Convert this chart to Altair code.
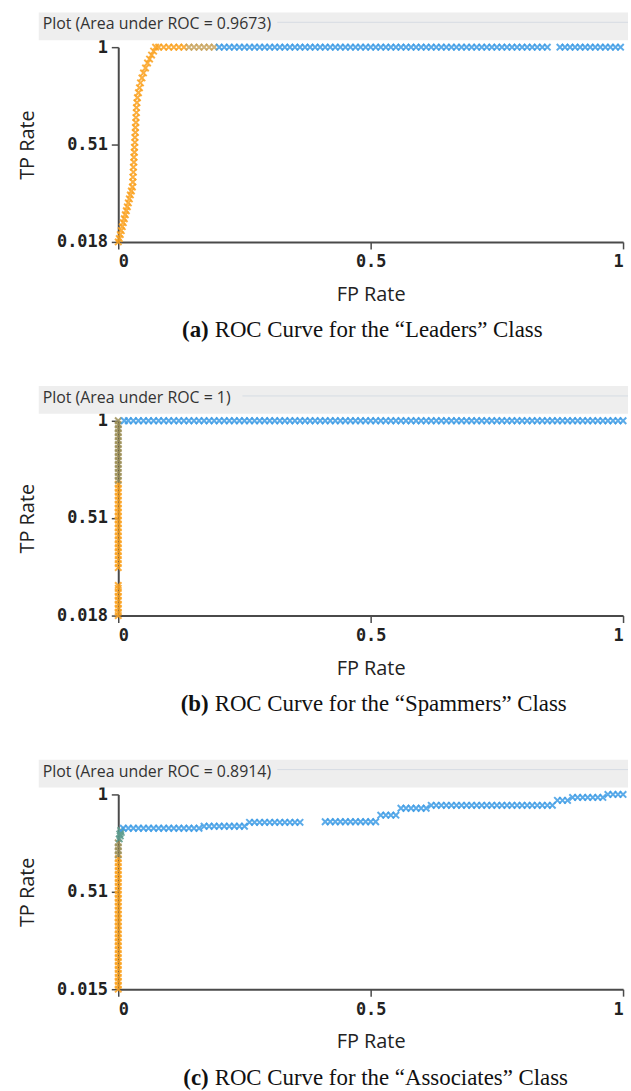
import altair as alt
import pandas as pd

# ---------------- data ----------------
# Panel (a) "Leaders"
A_CURVE_FP = [0.000, 0.002, 0.004, 0.006, 0.008, 0.010, 0.012, 0.014, 0.016, 0.018,
              0.020, 0.022, 0.024, 0.026, 0.028, 0.029, 0.029, 0.030, 0.030, 0.031,
              0.031, 0.032, 0.032, 0.033, 0.033, 0.034, 0.034, 0.035, 0.035, 0.036,
              0.036, 0.037, 0.038, 0.040, 0.042, 0.044, 0.047, 0.050, 0.054, 0.058,
              0.062, 0.066, 0.070, 0.074]
A_CURVE_TP = [0.018, 0.035, 0.055, 0.075, 0.095, 0.115, 0.135, 0.155, 0.175, 0.195,
              0.215, 0.235, 0.255, 0.275, 0.295, 0.320, 0.345, 0.370, 0.395, 0.420,
              0.445, 0.470, 0.495, 0.520, 0.545, 0.570, 0.595, 0.620, 0.645, 0.670,
              0.695, 0.720, 0.745, 0.770, 0.795, 0.820, 0.845, 0.870, 0.895, 0.920,
              0.940, 0.960, 0.980, 1.000]
A_TOP_TP = 1.0
A_TOP_ORANGE_FP = [0.08, 0.09, 0.10, 0.11, 0.12, 0.13]
A_TOP_TAN_FP = [0.14, 0.15, 0.16, 0.17, 0.18, 0.19]
A_TOP_BLUE_FP = [0.20, 0.21, 0.22, 0.23, 0.24, 0.25, 0.26, 0.27, 0.28, 0.29,
                 0.30, 0.31, 0.32, 0.33, 0.34, 0.35, 0.36, 0.37, 0.38, 0.39,
                 0.40, 0.41, 0.42, 0.43, 0.44, 0.45, 0.46, 0.47, 0.48, 0.49,
                 0.50, 0.51, 0.52, 0.53, 0.54, 0.55, 0.56, 0.57, 0.58, 0.59,
                 0.60, 0.61, 0.62, 0.63, 0.64, 0.65, 0.66, 0.67, 0.68, 0.69,
                 0.70, 0.71, 0.72, 0.73, 0.74, 0.75, 0.76, 0.77, 0.78, 0.79,
                 0.80, 0.81, 0.82, 0.83, 0.84, 0.85,
                 0.875, 0.885, 0.895, 0.905, 0.915, 0.925, 0.935, 0.945, 0.955,
                 0.965, 0.975, 0.985, 0.995]

# Panel (b) "Spammers"
B_LEFT_FP = 0.0
B_LEFT_ORANGE_TP = [0.018, 0.035, 0.055, 0.075, 0.095, 0.115, 0.135, 0.155, 0.170,
                    0.260, 0.280, 0.300, 0.320, 0.340, 0.360, 0.380, 0.400, 0.420,
                    0.440, 0.460, 0.480, 0.500, 0.520, 0.540, 0.560, 0.580, 0.600,
                    0.620, 0.640, 0.660, 0.680]
B_LEFT_OLIVE_TP = [0.700, 0.720, 0.740, 0.760, 0.780, 0.800, 0.820, 0.840, 0.860,
                   0.880, 0.900, 0.920, 0.940, 0.960, 0.980, 1.000]
B_TOP_TP = 1.0
B_TOP_BLUE_FP = [0.012, 0.02, 0.03, 0.04, 0.05, 0.06, 0.07, 0.08, 0.09,
                 0.10, 0.11, 0.12, 0.13, 0.14, 0.15, 0.16, 0.17, 0.18, 0.19,
                 0.20, 0.21, 0.22, 0.23, 0.24, 0.25, 0.26, 0.27, 0.28, 0.29,
                 0.30, 0.31, 0.32, 0.33, 0.34, 0.35, 0.36, 0.37, 0.38, 0.39,
                 0.40, 0.41, 0.42, 0.43, 0.44, 0.45, 0.46, 0.47, 0.48, 0.49,
                 0.50, 0.51, 0.52, 0.53, 0.54, 0.55, 0.56, 0.57, 0.58, 0.59,
                 0.60, 0.61, 0.62, 0.63, 0.64, 0.65, 0.66, 0.67, 0.68, 0.69,
                 0.70, 0.71, 0.72, 0.73, 0.74, 0.75, 0.76, 0.77, 0.78, 0.79,
                 0.80, 0.81, 0.82, 0.83, 0.84, 0.85, 0.86, 0.87, 0.88, 0.89,
                 0.90, 0.91, 0.92, 0.93, 0.94, 0.95, 0.96, 0.97, 0.98, 0.99, 1.00]

# Panel (c) "Associates"
C_LEFT_FP = 0.0
C_LEFT_ORANGE_TP = [0.015, 0.035, 0.055, 0.075, 0.095, 0.115, 0.135, 0.155, 0.175,
                    0.195, 0.215, 0.235, 0.255, 0.275, 0.295, 0.315, 0.335, 0.355,
                    0.375, 0.395, 0.415, 0.435, 0.455, 0.475, 0.495, 0.515, 0.535,
                    0.555, 0.575, 0.595, 0.615, 0.635, 0.655, 0.675]
C_LEFT_OLIVE_TP = [0.695, 0.715, 0.735, 0.755]
C_KNEE_FP = [0.002, 0.004, 0.003, 0.006, 0.005]
C_KNEE_TP = [0.775, 0.790, 0.800, 0.808, 0.818]
C_BLUE_RUNS = [
    (0.829, [0.01, 0.02, 0.03, 0.04, 0.05, 0.06, 0.07, 0.08, 0.09, 0.10, 0.11, 0.12,
             0.13, 0.14, 0.15, 0.16]),
    (0.839, [0.17, 0.18, 0.19, 0.20, 0.21, 0.22, 0.23, 0.24, 0.25]),
    (0.859, [0.26, 0.27, 0.28, 0.29, 0.30, 0.31, 0.32, 0.33, 0.34, 0.35, 0.36]),
    (0.862, [0.41, 0.42, 0.43, 0.44, 0.45, 0.46, 0.47, 0.48, 0.49, 0.50, 0.51]),
    (0.895, [0.52, 0.53, 0.54, 0.55]),
    (0.930, [0.56, 0.57, 0.58, 0.59, 0.60, 0.61]),
    (0.945, [0.62, 0.63, 0.64, 0.65, 0.66, 0.67, 0.68, 0.69, 0.70, 0.71, 0.72, 0.73,
             0.74, 0.75, 0.76, 0.77, 0.78, 0.79, 0.80, 0.81, 0.82, 0.83, 0.84, 0.85,
             0.86]),
    (0.970, [0.87, 0.88, 0.89]),
    (0.985, [0.90, 0.91, 0.92, 0.93, 0.94, 0.95, 0.96]),
    (1.000, [0.97, 0.98, 0.99, 1.00]),
]

HEADERS = ["Plot (Area under ROC = 0.9673)", "Plot (Area under ROC = 1)",
           "Plot (Area under ROC = 0.8914)"]
CAP_TAGS = ["(a)", "(b)", "(c)"]
CAP_TEXTS = ["ROC Curve for the \u201cLeaders\u201d Class",
             "ROC Curve for the \u201cSpammers\u201d Class",
             "ROC Curve for the \u201cAssociates\u201d Class"]
Y_MINS = [0.018, 0.018, 0.015]
Y_MID = 0.51
X_TICKS = [0, 0.5, 1]

GROUPS = ["orange", "tan", "olive", "teal", "blue"]
GROUP_COLORS = ["#fba21f", "#c9a55f", "#9d9058", "#5f9d8f", "#3f9de6"]

# ---------------- build tables ----------------
def rows(fps, tps, grp):
    return [{"fp": f, "tp": t, "grp": grp} for f, t in zip(fps, tps)]

da = (rows(A_CURVE_FP, A_CURVE_TP, "orange")
      + rows(A_TOP_ORANGE_FP, [A_TOP_TP] * len(A_TOP_ORANGE_FP), "orange")
      + rows(A_TOP_TAN_FP, [A_TOP_TP] * len(A_TOP_TAN_FP), "tan")
      + rows(A_TOP_BLUE_FP, [A_TOP_TP] * len(A_TOP_BLUE_FP), "blue"))
db = (rows([B_LEFT_FP] * len(B_LEFT_ORANGE_TP), B_LEFT_ORANGE_TP, "orange")
      + rows([B_LEFT_FP] * len(B_LEFT_OLIVE_TP), B_LEFT_OLIVE_TP, "olive")
      + rows(B_TOP_BLUE_FP, [B_TOP_TP] * len(B_TOP_BLUE_FP), "blue"))
dc = (rows([C_LEFT_FP] * len(C_LEFT_ORANGE_TP), C_LEFT_ORANGE_TP, "orange")
      + rows([C_LEFT_FP] * len(C_LEFT_OLIVE_TP), C_LEFT_OLIVE_TP, "olive")
      + rows(C_KNEE_FP, C_KNEE_TP, "teal"))
for tp, fps in C_BLUE_RUNS:
    dc += rows(fps, [tp] * len(fps), "blue")

DATASETS = [pd.DataFrame(da), pd.DataFrame(db), pd.DataFrame(dc)]

# ---------------- styling ----------------
W, H = 508, 196
XPATH = "M-1,-1L1,1M-1,1L1,-1"
ONE = pd.DataFrame({"k": [0]})


def panel(i):
    df = DATASETS[i]
    ymin = Y_MINS[i]
    pts = alt.Chart(df).mark_point(
        shape=XPATH, filled=False, size=42, strokeWidth=2.0, opacity=0.85
    ).encode(
        x=alt.X("fp:Q",
                scale=alt.Scale(domain=[0, 1], nice=False, zero=False),
                axis=alt.Axis(values=X_TICKS, title="FP Rate",
                              labelExpr="'' + datum.value",
                              titleX=W / 2, titleY=53, titleBaseline="middle",
                              labelPadding=5)),
        y=alt.Y("tp:Q",
                scale=alt.Scale(domain=[ymin, 1], nice=False, zero=False),
                axis=alt.Axis(values=[ymin, Y_MID, 1], title="TP Rate",
                              labelExpr="'' + datum.value",
                              titleX=-91, titleY=H / 2, titleBaseline="middle",
                              labelPadding=4)),
        color=alt.Color("grp:N", scale=alt.Scale(domain=GROUPS, range=GROUP_COLORS),
                        legend=None),
    )
    head_rect = alt.Chart(ONE).mark_rect(color="#eeeeee").encode(
        x=alt.value(-80), x2=alt.value(W + 5), y=alt.value(-35), y2=alt.value(-7))
    head_line = alt.Chart(ONE).mark_rule(color="#d6dce3", strokeWidth=1).encode(
        x=alt.value(160 if i != 1 else 125), x2=alt.value(W + 5), y=alt.value(-25))
    head_text = alt.Chart(ONE).mark_text(
        align="left", baseline="middle", font="Open Sans", fontSize=16, color="#333333"
    ).encode(x=alt.value(-76), y=alt.value(-23), text=alt.value(HEADERS[i]))
    cap_tag = alt.Chart(ONE).mark_text(
        align="right", baseline="middle", font="Liberation Serif", fontSize=23,
        fontWeight="bold", color="#111111"
    ).encode(x=alt.value(91), y=alt.value(285), text=alt.value(CAP_TAGS[i]))
    cap_text = alt.Chart(ONE).mark_text(
        align="left", baseline="middle", font="Liberation Serif", fontSize=23,
        color="#111111"
    ).encode(x=alt.value(97), y=alt.value(285), text=alt.value(CAP_TEXTS[i]))
    return alt.layer(head_rect, head_line, head_text, pts, cap_tag, cap_text).properties(
        width=W, height=H)


chart = alt.vconcat(panel(0), panel(1), panel(2), spacing=44).properties(
    padding={"left": 17, "top": 9, "right": 0, "bottom": 0}
).configure_view(stroke=None).configure_axis(
    grid=False,
    domainColor="#4a4a4a", domainWidth=2,
    tickColor="#4a4a4a", tickWidth=1.5, tickSize=7,
    labelFont="DejaVu Sans Mono", labelFontSize=17, labelFontWeight="bold",
    labelColor="#222222",
    titleFont="Open Sans", titleFontSize=20, titleFontWeight="normal",
    titleColor="#222222",
)

chart.save("out.html", embed_options={"renderer": "svg", "actions": False})
